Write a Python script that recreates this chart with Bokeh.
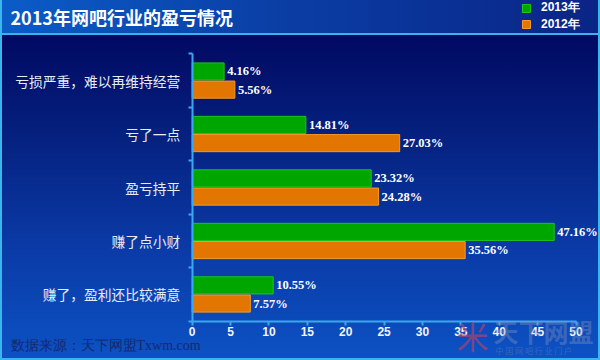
from bokeh.plotting import figure
from bokeh.models import (ColumnDataSource, Range1d, FixedTicker, LabelSet, Label,
                          Legend, LegendItem)
from bokeh.transform import dodge
from bokeh.embed import file_html
from bokeh.resources import INLINE

# ---- data ----
categories = ["亏损严重，难以再维持经营", "亏了一点", "盈亏持平", "赚了点小财", "赚了，盈利还比较满意"]
values_2013 = [4.16, 14.81, 23.32, 47.16, 10.55]
values_2012 = [5.56, 27.03, 24.28, 35.56, 7.57]
series_names = ["2013年", "2012年"]
x_ticks = [0, 5, 10, 15, 20, 25, 30, 35, 40, 45, 50]
title_text = "2013年网吧行业的盈亏情况"
source_text = "数据来源：天下网盟Txwm.com"
watermark_text = "天下网盟"
watermark_sub = "中 国 网 吧 行 业 门 户"

# ---- geometry (pixels) ----
W, H = 600, 360
PL, PR = 191.7, 575.5      # x of value 0 and value X_MAX
PT, PB = 53.3, 320.7       # y of first / last category boundary
X_MAX = x_ticks[-1]
N = len(categories)

xu = (PR - PL) / X_MAX
yu = (PB - PT) / N
x_range = Range1d(-PL / xu, X_MAX + (W - PR) / xu)
y_range = Range1d(N + (H - PB) / yu, -PT / yu)

pos = [i + 0.5 for i in range(N)]
src = ColumnDataSource(dict(
    cat=categories, pos=pos, v13=values_2013, v12=values_2012,
    l13=[f"{v:.2f}%" for v in values_2013],
    l12=[f"{v:.2f}%" for v in values_2012],
))

p = figure(width=W, height=H, output_backend="svg", toolbar_location=None, title=None,
           x_range=x_range, y_range=y_range,
           min_border_left=0, min_border_right=0, min_border_top=0, min_border_bottom=0)
p.border_fill_alpha = 0
p.background_fill_alpha = 0
p.outline_line_color = None
p.grid.visible = False
p.styles = {
    "background": ("linear-gradient(to right, #0b5cc8, #0a3fa6 45%, #0a2486) 0 0 / 100% 33px no-repeat, "
                   "linear-gradient(#3ab2ee, #3ab2ee) 0 33px / 100% 2px no-repeat, "
                   "linear-gradient(to bottom, #010962, #05207e 30%, #0a3aa6 65%, #0c52c4) 0 35px / 100% calc(100% - 35px) no-repeat"),
    "box-shadow": "inset 2px 0 0 #3ab6ee, inset -2px 0 0 #3ab6ee, inset 0 -2px 0 #3ab6ee",
}

AX = "#3aa8ee"

r13 = p.hbar(y=dodge("pos", -0.17), left=0, right="v13", height=0.32, source=src,
             fill_color="#00a600", line_color="#1ec41e", line_width=1)
r12 = p.hbar(y=dodge("pos", 0.17), left=0, right="v12", height=0.32, source=src,
             fill_color="#e27600", line_color="#f49a28", line_width=1)

for field, lab, off in (("v13", "l13", -0.17), ("v12", "l12", 0.17)):
    p.add_layout(LabelSet(x=field, y=dodge("pos", off), text=lab, source=src,
                          x_offset=3, text_baseline="middle", text_align="left",
                          text_color="white", text_font="Liberation Serif",
                          text_font_style="bold", text_font_size="12.5px"))

xa = p.xaxis[0]
xa.fixed_location = N
xa.bounds = (0, X_MAX)
xa.ticker = FixedTicker(ticks=x_ticks)
xa.axis_line_color = AX
xa.axis_line_width = 2
xa.major_tick_line_color = AX
xa.major_tick_line_width = 2
xa.major_tick_out = 4
xa.major_tick_in = 0
xa.minor_tick_line_color = None
xa.major_label_standoff = 2
xa.major_label_text_color = "#f4f4f4"
xa.major_label_text_font = "Liberation Sans"
xa.major_label_text_font_style = "bold"
xa.major_label_text_font_size = "12px"

ya = p.yaxis[0]
ya.fixed_location = 0
ya.bounds = (0, N)
ya.ticker = FixedTicker(ticks=pos, minor_ticks=list(range(N + 1)))
ya.major_label_overrides = {pos[i]: categories[i] for i in range(N)}
ya.axis_line_color = AX
ya.axis_line_width = 2
ya.major_tick_line_color = None
ya.major_tick_out = 0
ya.major_tick_in = 0
ya.minor_tick_line_color = AX
ya.minor_tick_line_width = 2
ya.minor_tick_out = 4
ya.minor_tick_in = 0
ya.major_label_standoff = 8
ya.major_label_text_color = "#e8ecf6"
ya.major_label_text_font = "Noto Sans CJK SC"
ya.major_label_text_font_size = "13.75px"

# one legend per series so each row can be placed on its own
for name, rend, bottom_from_top in ((series_names[0], r13, 16), (series_names[1], r12, 32.7)):
    lg = Legend(items=[LegendItem(label=name, renderers=[rend])],
                location=(521, H - bottom_from_top), orientation="vertical",
                background_fill_alpha=0, border_line_color=None,
                label_text_color="white", label_text_font="Liberation Sans",
                label_text_font_style="bold", label_text_font_size="12px",
                glyph_width=10, glyph_height=10, label_height=14, spacing=0,
                padding=0, margin=0, label_standoff=10)
    p.add_layout(lg, "center")

def screen_label(x, y_from_top, text, **kw):
    p.add_layout(Label(x=x, y=H - y_from_top, x_units="screen", y_units="screen",
                       text=text, text_baseline="middle", **kw))

screen_label(10, 16, title_text, text_color="white", text_font="Noto Sans CJK SC",
             text_font_style="bold", text_font_size="18px")
screen_label(10, 345, source_text, text_color="#16286e", text_font="Liberation Serif",
             text_font_size="14px")
screen_label(456, 334, "米", text_color="#b0406e", text_alpha=0.7,
             text_font="Noto Sans CJK SC", text_font_size="32px")
screen_label(493, 330, watermark_text, text_color="#8a94b8", text_alpha=0.4,
             text_font="Noto Sans CJK SC", text_font_style="bold", text_font_size="25px")
screen_label(495, 350, watermark_sub, text_color="#8a94b8", text_alpha=0.35,
             text_font="Noto Sans CJK SC", text_font_size="8px")

open("out.html", "w").write(file_html(p, INLINE))
